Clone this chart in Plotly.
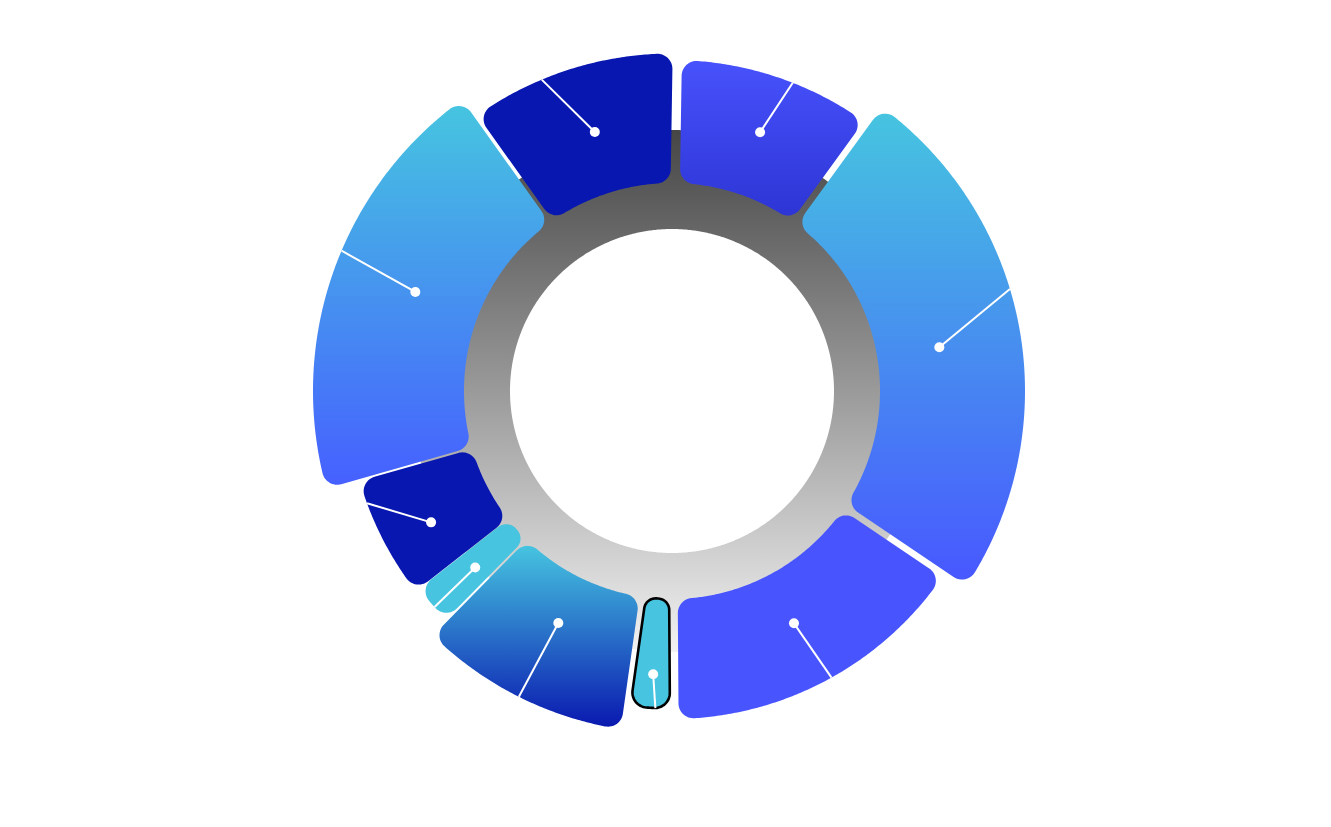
import numpy as np
import plotly.graph_objects as go

# ---- data ----
categories = ["A", "B", "C", "D", "E", "F", "G", "H", "I"]
values = [35.1, 88.0, 55.6, 8.5, 36.4, 7.5, 22.1, 70.4, 36.4]          # angular share
radius_values = [331, 353, 328, 317.5, 342, 321, 325, 359, 337.5]      # outer radius value
label_dot_angle = [18.8, 80.7, 152.3, 183.8, 206.1, 228.1, 241.4, 291.1, 343.4]
label_dot_radius = [273.3, 270.9, 262.4, 283.9, 258.4, 264.4, 274.4, 275.1, 270.2]
label_end_angle = [21.4, 73.2, 150.9, 183.0, 206.6, 227.7, 249.8, 293.0, 337.3]
selected = [False, False, False, True, False, False, False, False, False]

# ---- style ----
START_ANGLE = 0.9
INNER_R = 208
RING_R = (162, 261)
CORNER = 15
GAPS = [9.3, 6.5, 6.5, 8.6, 6.3, 2.0, 0.5, 2.0, 3.5]   # gap at the start boundary of each segment
DARK, BLUE, CYAN = "#0817B0", "#4855FF", "#46C4E0"
FILLS = [
    ("#4852FC", "#2D35D5"),
    (CYAN, "#4858FF"),
    (BLUE, None),
    (CYAN, None),
    (CYAN, "#0A19B0"),
    (CYAN, None),
    (DARK, None),
    (CYAN, "#4660FF"),
    (DARK, None),
]


def polar(b, r):
    return np.array([r * np.sin(b), r * np.cos(b)])


def arc(r, ba, bb, step=np.radians(0.4)):
    n = max(2, int(np.ceil(abs(bb - ba) / step)) + 1)
    return [polar(b, r) for b in np.linspace(ba, bb, n)]


def fillet(C, Pa, Pb, n=16):
    a = np.arctan2(Pa[1] - C[1], Pa[0] - C[0])
    b = np.arctan2(Pb[1] - C[1], Pb[0] - C[0])
    d = (b - a + np.pi) % (2 * np.pi) - np.pi
    rho = np.hypot(*(Pa - C))
    return [C + rho * np.array([np.cos(a + d * k / n), np.sin(a + d * k / n)]) for k in range(n + 1)]


def corner(b, d, c, rc, inner, sign):
    u = np.array([np.sin(b), np.cos(b)])
    nv = sign * np.array([np.cos(b), -np.sin(b)])
    s = d + c
    R = rc + c if inner else rc - c
    t = np.sqrt(max(R * R - s * s, 0))
    C = t * u + s * nv
    L = t * u + d * nv
    A = C * rc / R
    return C, L, A


def bearing(P, ref):
    b = np.arctan2(P[0], P[1])
    return b + 2 * np.pi * np.round((ref - b) / (2 * np.pi))


def sector(b0, b1, r0, r1, d0, d1, c):
    c_in = min(c, 0.49 * (r0 * (b1 - b0) - d0 - d1))
    c_out = min(c, 0.49 * (r1 * (b1 - b0) - d0 - d1))
    Cos, Los, Aos = corner(b0, d0, c_out, r1, False, 1)
    Cis, Lis, Ais = corner(b0, d0, c_in, r0, True, 1)
    Coe, Loe, Aoe = corner(b1, d1, c_out, r1, False, -1)
    Cie, Lie, Aie = corner(b1, d1, c_in, r0, True, -1)
    pts = []
    boe, bos = bearing(Aoe, b1), bearing(Aos, b0)
    if boe > bos:
        pts += arc(r1, bos, boe)
    pts += fillet(Coe, Aoe, Loe)
    pts += fillet(Cie, Lie, Aie)
    bie, bis = bearing(Aie, b1), bearing(Ais, b0)
    if bie > bis:
        pts += arc(r0, bie, bis)
    pts += fillet(Cis, Ais, Lis)
    pts += fillet(Cos, Los, Aos)
    pts.append(pts[0])
    arr = np.array(pts)
    return arr[:, 0], arr[:, 1]


fig = go.Figure()

# background ring: gradient disk + white hole
th = np.linspace(0, 2 * np.pi, 721)
fig.add_trace(go.Scatter(
    x=RING_R[1] * np.sin(th), y=RING_R[1] * np.cos(th), mode="lines", fill="toself",
    line=dict(width=0, simplify=False), hoverinfo="skip",
    fillgradient=dict(type="vertical",
                      colorscale=[[0, "#f2f2f2"], [0.5, "#9a9a9a"], [1, "#464646"]]),
))
fig.add_trace(go.Scatter(
    x=RING_R[0] * np.sin(th), y=RING_R[0] * np.cos(th), mode="lines", fill="toself",
    fillcolor="white", line=dict(width=0, simplify=False), hoverinfo="skip",
))

total = sum(values)
angles = [0.0]
for v in values:
    angles.append(angles[-1] + v / total * 360.0)
n = len(values)
for i in range(n):
    b0 = np.radians(START_ANGLE + angles[i])
    b1 = np.radians(START_ANGLE + angles[i + 1])
    d0 = GAPS[i] / 2
    d1 = GAPS[(i + 1) % n] / 2
    xs, ys = sector(b0, b1, INNER_R, radius_values[i], d0, d1, CORNER)
    top, bottom = FILLS[i]
    kw = {}
    if bottom is None:
        kw["fillcolor"] = top
    else:
        kw["fillgradient"] = dict(type="vertical", colorscale=[[0, bottom], [1, top]])
    if selected[i]:
        line = dict(color="black", width=2.6, simplify=False)
    else:
        line = dict(width=0, color=top, simplify=False)
    fig.add_trace(go.Scatter(x=xs, y=ys, mode="lines", fill="toself", line=line,
                             name=categories[i], hoverinfo="skip", **kw))

# label lines and dots
lx, ly, dx, dy = [], [], [], []
for i in range(n):
    p0 = polar(np.radians(label_dot_angle[i]), label_dot_radius[i])
    p1 = polar(np.radians(label_end_angle[i]), radius_values[i])
    lx += [p0[0], p1[0], None]
    ly += [p0[1], p1[1], None]
    dx.append(p0[0])
    dy.append(p0[1])
fig.add_trace(go.Scatter(x=lx, y=ly, mode="lines", line=dict(color="white", width=2),
                         hoverinfo="skip"))
fig.add_trace(go.Scatter(x=dx, y=dy, mode="markers", marker=dict(color="white", size=10),
                         hoverinfo="skip"))

W, H, CX, CY = 1331, 827, 672, 391
fig.update_layout(
    width=W, height=H, margin=dict(l=0, r=0, t=0, b=0),
    paper_bgcolor="white", plot_bgcolor="white", showlegend=False,
    xaxis=dict(range=[-CX, W - CX], visible=False, fixedrange=True),
    yaxis=dict(range=[CY - H, CY], visible=False, fixedrange=True),
)
fig.write_html("out.html")
